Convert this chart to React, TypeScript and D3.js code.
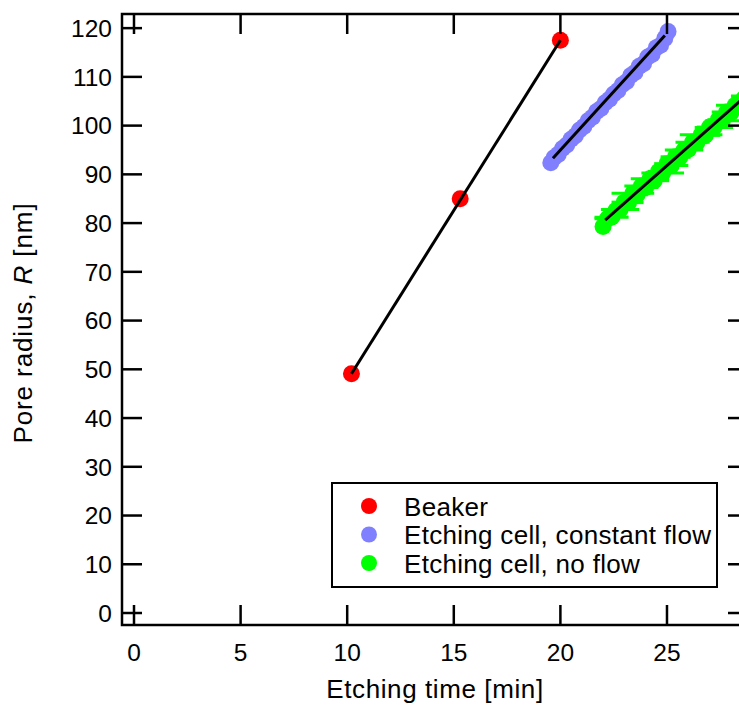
import React, { useEffect, useRef } from 'react';
import * as d3 from 'd3';

// Beaker (red)
const beakerTime = [10.2, 15.3, 20.0];
const beakerRadius = [49.1, 85.0, 117.5];

// Etching cell, constant flow (blue)
const flowTime = [19.55, 19.7, 19.9, 20.1, 20.3, 20.5, 20.7, 20.9, 21.1, 21.3, 21.5, 21.7, 21.9, 22.1, 22.3, 22.5, 22.7, 22.9, 23.1, 23.3, 23.5, 23.7, 23.9, 24.1, 24.3, 24.5, 24.7, 24.9, 25.05];
const flowRadius = [92.4, 93.4, 94.1, 95.3, 96.0, 97.2, 97.9, 99.1, 99.8, 101.0, 101.7, 102.9, 103.5, 104.7, 105.4, 106.5, 107.2, 108.4, 109.0, 110.3, 110.9, 112.2, 112.7, 114.1, 114.6, 116.0, 116.5, 117.9, 119.3];

// Etching cell, no flow (green) with horizontal error
const noFlowTime = [22.0, 22.2, 22.4, 22.6, 22.8, 23.0, 23.2, 23.4, 23.6, 23.8, 24.0, 24.2, 24.4, 24.6, 24.8, 25.0, 25.2, 25.4, 25.6, 25.8, 26.0, 26.2, 26.4, 26.6, 26.8, 27.0, 27.2, 27.4, 27.6, 27.8, 28.0, 28.2, 28.4, 28.6, 28.8];
const noFlowRadius = [79.3, 80.9, 81.2, 82.6, 82.8, 84.3, 84.2, 86.1, 85.8, 87.6, 87.3, 89.1, 88.7, 90.6, 90.3, 92.2, 91.8, 93.6, 93.5, 95.0, 95.1, 96.6, 96.5, 98.1, 98.0, 99.7, 99.6, 101.2, 101.0, 102.8, 102.7, 104.2, 104.1, 105.5, 106.1];
const noFlowTimeErr = [0.3, 0.6, 0.8, 0.5, 0.9, 0.6, 0.7, 1.0, 0.5, 0.8, 0.6, 0.9, 0.7, 0.5, 1.0, 0.6, 0.8, 0.7, 0.5, 0.9, 0.6, 0.8, 0.5, 1.0, 0.7, 0.6, 0.9, 0.5, 0.8, 0.7, 0.6, 0.9, 0.7, 0.6, 0.8];

// linear fits (endpoints in data units)
const beakerFit = [[10.2, 49.1], [20.0, 117.5]];
const flowFit = [[19.65, 93.3], [24.9, 118.5]];
const noFlowFit = [[22.1, 80.6], [28.8, 106.5]];

const xTicks = [0, 5, 10, 15, 20, 25];
const yTicks = [0, 10, 20, 30, 40, 50, 60, 70, 80, 90, 100, 110, 120];

const legendLabels = ['Beaker', 'Etching cell, constant flow', 'Etching cell, no flow'];
const legendColors = ['#ff0000', '#8080ff', '#00ff00'];

const App = () => {
  const svgRef = useRef<SVGSVGElement>(null);

  useEffect(() => {
    if (!svgRef.current) return;
    const width = 739;
    const height = 706;
    const font = 'Liberation Sans, Arial, sans-serif';

    const svg = d3.select(svgRef.current);
    svg.selectAll('*').remove();
    svg.attr('width', width).attr('height', height);

    const left = 122, right = 748, top = 14, bottom = 625;
    const x = d3.scaleLinear().domain([-0.563, 28.8]).range([left, right]);
    const y = d3.scaleLinear().domain([-2.46, 122.9]).range([bottom, top]);

    svg.append('defs').append('clipPath').attr('id', 'plot-clip')
      .append('rect').attr('x', left).attr('y', top)
      .attr('width', right - left).attr('height', bottom - top);

    const plot = svg.append('g').attr('clip-path', 'url(#plot-clip)');

    // green horizontal error bars + markers
    const noFlow = noFlowTime.map((t, i) => ({ t, r: noFlowRadius[i], e: noFlowTimeErr[i] }));
    plot.selectAll('.nf-err')
      .data(noFlow)
      .join('line')
      .attr('x1', d => x(d.t - d.e))
      .attr('x2', d => x(d.t + d.e))
      .attr('y1', d => y(d.r))
      .attr('y2', d => y(d.r))
      .attr('stroke', '#00ff00')
      .attr('stroke-width', 3);
    plot.selectAll('.nf')
      .data(noFlow)
      .join('circle')
      .attr('cx', d => x(d.t))
      .attr('cy', d => y(d.r))
      .attr('r', 8.5)
      .attr('fill', '#00ff00');

    // blue markers
    plot.selectAll('.fl')
      .data(flowTime.map((t, i) => ({ t, r: flowRadius[i] })))
      .join('circle')
      .attr('cx', d => x(d.t))
      .attr('cy', d => y(d.r))
      .attr('r', 8.5)
      .attr('fill', '#8080ff');

    // red markers
    plot.selectAll('.bk')
      .data(beakerTime.map((t, i) => ({ t, r: beakerRadius[i] })))
      .join('circle')
      .attr('cx', d => x(d.t))
      .attr('cy', d => y(d.r))
      .attr('r', 8.5)
      .attr('fill', '#ff0000');

    // fit lines
    const line = d3.line<number[]>().x(d => x(d[0])).y(d => y(d[1]));
    [beakerFit, flowFit, noFlowFit].forEach(fit => {
      plot.append('path')
        .attr('d', line(fit))
        .attr('fill', 'none')
        .attr('stroke', '#000')
        .attr('stroke-width', 3);
    });

    // frame
    svg.append('rect')
      .attr('x', left).attr('y', top)
      .attr('width', right - left).attr('height', bottom - top)
      .attr('fill', 'none').attr('stroke', '#000').attr('stroke-width', 2.5);

    // inward ticks on all four sides
    const tickLen = 20;
    const ticks = svg.append('g').attr('stroke', '#000').attr('stroke-width', 2.5);
    xTicks.forEach(t => {
      ticks.append('line').attr('x1', x(t)).attr('x2', x(t)).attr('y1', bottom).attr('y2', bottom - tickLen);
      ticks.append('line').attr('x1', x(t)).attr('x2', x(t)).attr('y1', top).attr('y2', top + tickLen);
    });
    yTicks.forEach(t => {
      ticks.append('line').attr('x1', left).attr('x2', left + tickLen).attr('y1', y(t)).attr('y2', y(t));
      ticks.append('line').attr('x1', right).attr('x2', right - tickLen).attr('y1', y(t)).attr('y2', y(t));
    });

    // tick labels
    svg.append('g').selectAll('text')
      .data(xTicks)
      .join('text')
      .attr('x', d => x(d))
      .attr('y', 661)
      .attr('text-anchor', 'middle')
      .attr('font-family', font)
      .attr('font-size', 24.5)
      .text(d => d);

    svg.append('g').selectAll('text')
      .data(yTicks)
      .join('text')
      .attr('x', 112)
      .attr('y', d => y(d))
      .attr('dy', '0.36em')
      .attr('text-anchor', 'end')
      .attr('font-family', font)
      .attr('font-size', 24.5)
      .text(d => d);

    // axis titles
    svg.append('text')
      .attr('x', 435)
      .attr('y', 698)
      .attr('text-anchor', 'middle')
      .attr('font-family', font)
      .attr('font-size', 26)
      .attr('letter-spacing', 0.6)
      .text('Etching time [min]');

    const yTitle = svg.append('text')
      .attr('transform', 'translate(32,323) rotate(-90)')
      .attr('text-anchor', 'middle')
      .attr('font-family', font)
      .attr('font-size', 26)
      .attr('letter-spacing', 0.9);
    yTitle.append('tspan').text('Pore radius, ');
    yTitle.append('tspan').attr('font-style', 'italic').text('R');
    yTitle.append('tspan').text(' [nm]');

    // legend
    const lg = svg.append('g');
    lg.append('rect')
      .attr('x', 332).attr('y', 483)
      .attr('width', 385).attr('height', 104)
      .attr('fill', '#fff').attr('stroke', '#000').attr('stroke-width', 2);
    legendLabels.forEach((label, i) => {
      const cy = 506 + i * 28.5;
      lg.append('circle').attr('cx', 369).attr('cy', cy).attr('r', 8).attr('fill', legendColors[i]);
      lg.append('text')
        .attr('x', 404)
        .attr('y', cy + 9.5)
        .attr('font-family', font)
        .attr('font-size', 26)
        .attr('letter-spacing', 0.3)
        .text(label);
    });
  }, []);

  return (
    <svg ref={svgRef} style={{ position: 'absolute', left: 0, top: 0, background: '#fff' }}></svg>
  );
};

export default App;
